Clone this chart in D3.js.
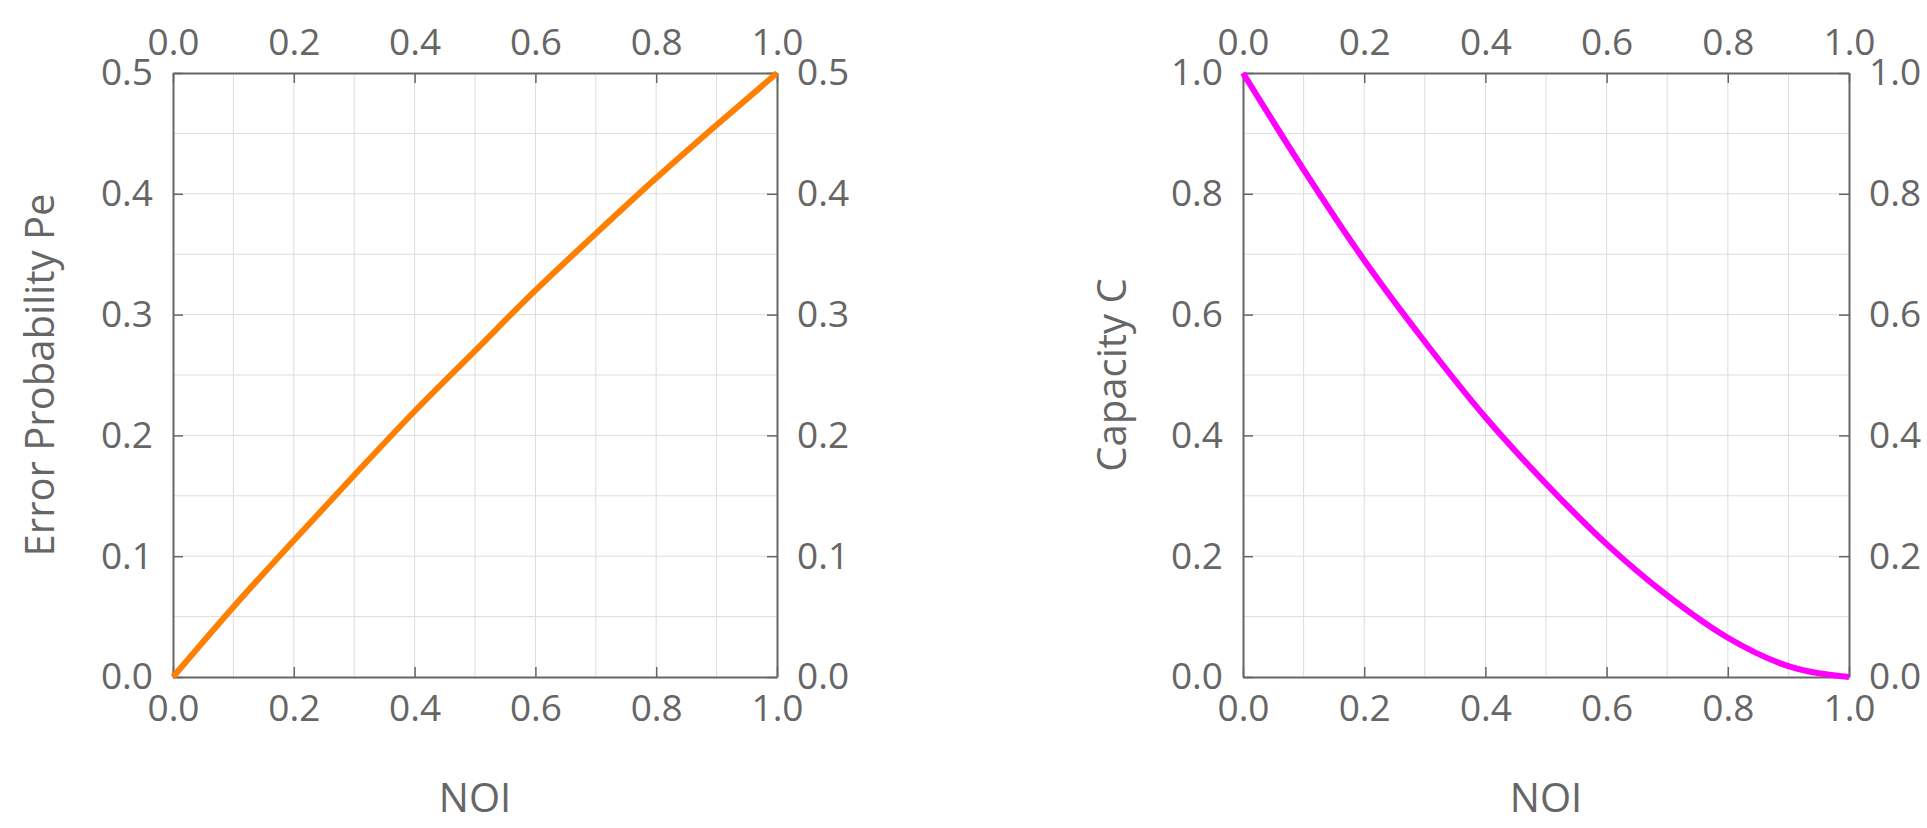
<!DOCTYPE html><html><head><meta charset="utf-8">
<script src="https://cdn.jsdelivr.net/npm/d3@7"></script>
<style>body{margin:0;background:#fff}</style></head><body>
<svg id="c" width="1927" height="828"></svg>
<script>
const noi = [0,0.1,0.2,0.3,0.4,0.5,0.6,0.7,0.8,0.9,1.0];
const pe  = [0,0.058,0.113,0.167,0.22,0.27,0.32,0.367,0.413,0.457,0.5];
const cap = [1,0.84,0.69,0.555,0.43,0.32,0.22,0.135,0.065,0.018,0];
const xTicks = [0,0.2,0.4,0.6,0.8,1.0];
const peTicks = [0,0.1,0.2,0.3,0.4,0.5];
const capTicks = [0,0.2,0.4,0.6,0.8,1.0];
const svg = d3.select("#c");
const font = "'Open Sans', sans-serif", gray = "#666";
function panel(x0, x1, y0, y1, ymax, yTicks, yMinor, vals, color, ylabel, lx){
  const x = d3.scaleLinear().domain([0,1]).range([x0,x1]);
  const y = d3.scaleLinear().domain([0,ymax]).range([y1,y0]);
  const g = svg.append("g");
  d3.range(1,10).forEach(i=>g.append("line").attr("x1",x(i/10)).attr("x2",x(i/10)).attr("y1",y0).attr("y2",y1).attr("stroke","#ddd"));
  d3.range(1,Math.round(ymax/yMinor)).forEach(i=>g.append("line").attr("y1",y(i*yMinor)).attr("y2",y(i*yMinor)).attr("x1",x0).attr("x2",x1).attr("stroke","#ddd"));
  const fmt = d3.format(".1f");
  const style = s=>s.call(a=>a.select(".domain").attr("stroke",gray).attr("stroke-width",2))
    .call(a=>a.selectAll(".tick line").attr("stroke",gray).attr("stroke-width",1.5))
    .call(a=>a.selectAll("text").attr("fill",gray).attr("font-family",font).attr("font-size",37));
  g.append("g").attr("transform",`translate(0,${y1})`).call(d3.axisBottom(x).tickValues(xTicks).tickFormat(fmt).tickSizeInner(-10).tickSizeOuter(0).tickPadding(18)).call(style);
  g.append("g").attr("transform",`translate(0,${y0})`).call(d3.axisTop(x).tickValues(xTicks).tickFormat(fmt).tickSizeInner(-10).tickSizeOuter(0).tickPadding(18)).call(style);
  g.append("g").attr("transform",`translate(${x0},0)`).call(d3.axisLeft(y).tickValues(yTicks).tickFormat(fmt).tickSizeInner(-10).tickSizeOuter(0).tickPadding(20)).call(style);
  g.append("g").attr("transform",`translate(${x1},0)`).call(d3.axisRight(y).tickValues(yTicks).tickFormat(fmt).tickSizeInner(-10).tickSizeOuter(0).tickPadding(20)).call(style);
  g.append("path").datum(noi.map((n,i)=>[n,vals[i]])).attr("fill","none").attr("stroke",color).attr("stroke-width",6)
    .attr("d",d3.line().x(d=>x(d[0])).y(d=>y(d[1])).curve(d3.curveMonotoneX));
  g.append("text").attr("x",(x0+x1)/2).attr("y",812).attr("text-anchor","middle").attr("fill",gray).attr("font-family",font).attr("font-size",40).text("NOI");
  g.append("text").attr("transform",`translate(${lx},${(y0+y1)/2}) rotate(-90)`).attr("dy","0.35em").attr("text-anchor","middle").attr("fill",gray).attr("font-family",font).attr("font-size",40).text(ylabel);
}
panel(173,777,73,677,0.5,peTicks,0.05,pe,"#ff7f00","Error Probability Pe",40);
panel(1243,1849,73,677,1.0,capTicks,0.1,cap,"#ff00ff","Capacity C",1112);
</script></body></html>
